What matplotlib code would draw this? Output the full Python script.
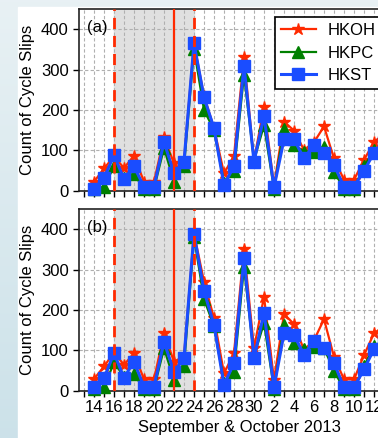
import numpy as np
import matplotlib.pyplot as plt
from matplotlib.ticker import MultipleLocator, FixedLocator

# days counted from 14 Sep 2013
days = list(range(30))
day_labels = ["14", "16", "18", "20", "22", "24", "26", "28", "30",
              "2", "4", "6", "8", "10", "12"]

# (a) cycle slip counts
hkoh_a = [22, 55, 85, 56, 87, 22, 22, 132, 68, 75, 365, 235, 155, 43, 86, 330, 75, 208, 12,
          171, 149, 101, 120, 159, 80, 27, 27, 76, 121, 140]
hkpc_a = [3, 10, 60, 32, 41, 5, 5, 106, 22, 60, 352, 200, 150, 20, 48, 287, 75, 162, 4,
          152, 113, 97, 97, 109, 47, 5, 5, 60, 100, 115]
hkst_a = [5, 31, 88, 29, 60, 10, 10, 121, 43, 72, 365, 231, 155, 14, 61, 309, 72, 185, 8,
          127, 127, 80, 113, 93, 64, 10, 10, 49, 94, 120]

# (b) cycle slip counts
hkoh_b = [29, 60, 95, 64, 93, 28, 28, 142, 72, 85, 390, 270, 180, 43, 93, 351, 105, 233, 27,
          190, 165, 101, 125, 177, 84, 28, 28, 88, 142, 160]
hkpc_b = [3, 8, 70, 35, 41, 5, 5, 105, 27, 60, 380, 227, 160, 20, 47, 307, 85, 168, 4,
          163, 117, 103, 107, 105, 50, 3, 3, 60, 110, 125]
hkst_b = [8, 31, 93, 32, 72, 10, 10, 121, 47, 80, 389, 247, 163, 14, 69, 328, 80, 193, 8,
          142, 138, 89, 124, 105, 69, 8, 8, 53, 103, 125]

W, H = 378, 438
fig = plt.figure(figsize=(W / 100, H / 100), dpi=100)
plt.rcParams["font.family"] = ["Liberation Sans", "DejaVu Sans"]

# light blue backdrop with white page on top
bg = fig.add_axes([0, 0, 1, 1], zorder=-10)
grad = np.linspace(0, 1, 256).reshape(-1, 1)
top_c = np.array([0.91, 0.945, 0.957])
bot_c = np.array([0.80, 0.885, 0.915])
img = top_c + (bot_c - top_c) * grad[:, :, None]
bg.imshow(img, aspect="auto", extent=[0, 1, 0, 1], origin="upper")
bg.add_patch(plt.Rectangle((18 / W, 0), 1, 1 - 7 / H, color="white"))
bg.set_xlim(0, 1)
bg.set_ylim(0, 1)
bg.axis("off")

left = 79 / W
width = 320 / W
ax_h = 181.7 / H
ax1 = fig.add_axes([left, 1 - 190.7 / H, width, ax_h])
ax2 = fig.add_axes([left, 1 - 390.7 / H, width, ax_h])

series = [("HKOH", "#ff2a00", "*", 9, 1.6),
          ("HKPC", "#008000", "^", 8, 1.6),
          ("HKST", "#1a4dff", "s", 8, 2.2)]

for ax, data, tag in [(ax1, [hkoh_a, hkpc_a, hkst_a], "(a)"),
                      (ax2, [hkoh_b, hkpc_b, hkst_b], "(b)")]:
    ax.axvspan(2, 10, color="#e0e0e0", zorder=0)
    for (name, col, mk, ms, lw), vals in zip(series, data):
        ax.plot(days, vals, color=col, marker=mk, ms=ms, lw=lw, label=name,
                mec=col, clip_on=False, zorder=3)
    ax.axvline(2, color="#ff2a00", ls=(0, (4, 2.5)), lw=2, zorder=4)
    ax.axvline(10, color="#ff2a00", ls=(0, (4, 2.5)), lw=2, zorder=4)
    ax.axvline(8, color="#ff2a00", ls="-", lw=1.6, zorder=4)

    ax.set_xlim(-1.5, 30.5)
    ax.set_ylim(0, 450)
    ax.xaxis.set_major_locator(FixedLocator(range(0, 30, 2)))
    ax.xaxis.set_minor_locator(MultipleLocator(1))
    ax.yaxis.set_major_locator(MultipleLocator(100))
    ax.grid(True, which="both", axis="x", color="#b0b0b0", ls=(0, (3, 2)), lw=0.8)
    ax.grid(True, which="major", axis="y", color="#b0b0b0", ls=(0, (3, 2)), lw=0.8)
    ax.set_axisbelow(True)
    ax.tick_params(which="both", direction="out", length=4, width=1, labelsize=12,
                   top=False, right=False)
    for sp in ax.spines.values():
        sp.set_linewidth(1.2)
        sp.set_color("#222222")
    ax.set_ylabel("Count of Cycle Slips", fontsize=12, labelpad=4)
    ax.text(0.025, 0.94, tag, transform=ax.transAxes, fontsize=12, va="top")

ax1.set_xticklabels([])
ax2.set_xticklabels(day_labels)
ax2.tick_params(axis="x", pad=3)
ax2.set_xlabel("September & October 2013", fontsize=12, labelpad=3)

leg = ax1.legend(loc="upper left", bbox_to_anchor=(196 / 320, 0.955), borderaxespad=0,
                 fontsize=12, frameon=True, fancybox=False, edgecolor="black",
                 borderpad=0.35, handlelength=2.1, labelspacing=0.45, handletextpad=0.7,
                 framealpha=1)
leg.get_frame().set_linewidth(1.2)
leg.set_zorder(6)

fig.savefig("out.png", dpi=100)
